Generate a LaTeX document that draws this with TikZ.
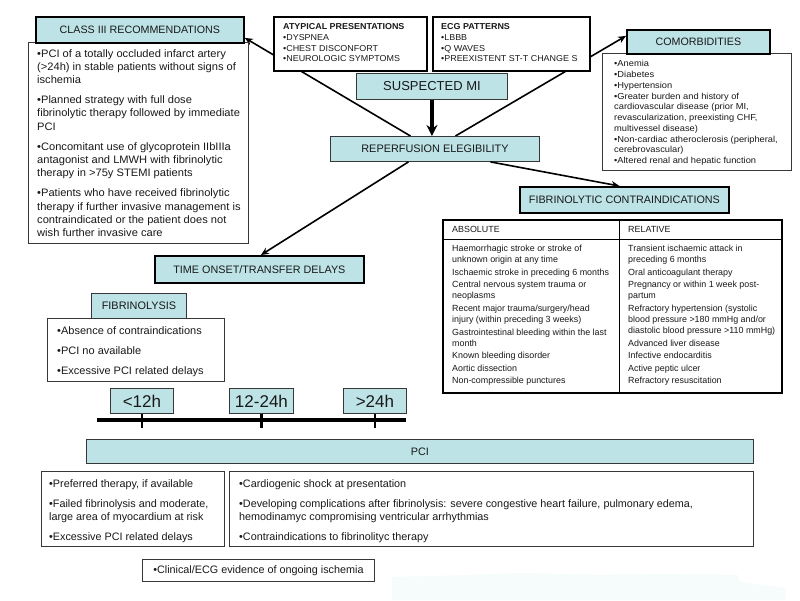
\documentclass[tikz,border=0pt]{standalone}
\usepackage{fontspec}
\setmainfont{Liberation Sans}
\usetikzlibrary{arrows.meta,backgrounds,calc}
\definecolor{boxcyan}{RGB}{189,227,230}
\definecolor{edgegray}{RGB}{55,55,55}
\definecolor{txtcol}{RGB}{25,25,25}
\definecolor{haze}{RGB}{246,251,252}
\newcommand\myfs[2]{\fontsize{#1}{#2}\selectfont}
\newcommand\mywide[1]{\addfontfeature{FakeStretch=#1}}
\tikzset{
  basebox/.style={anchor=north west, inner sep=0pt, text=txtcol},
  thickhdr/.style={basebox, draw=black, line width=1.8pt, fill=boxcyan},
  thinhdr/.style={basebox, draw=edgegray, line width=0.9pt, fill=boxcyan},
  thinbox/.style={basebox, draw=edgegray, line width=0.9pt, fill=white},
  thickbox/.style={basebox, draw=black, line width=1.8pt, fill=white},
  tabcell/.style={basebox, draw=black, line width=0.9pt, fill=white},
  txtblk/.style={anchor=north west, inner sep=0pt, align=left, text=txtcol},
  conn/.style={line width=1.6pt, -{Stealth[length=8pt,width=7pt]}},
  bigconn/.style={line width=3.6pt, -{Stealth[length=11pt,width=11pt]}},
  tickmark/.style={line width=2.6pt},
}
\begin{document}
\begin{tikzpicture}[x=1pt,y=-1pt]
\useasboundingbox (0,0) rectangle (800,600);
\fill[haze] (392,577) -- (470,575) -- (520,573) -- (600,575) -- (660,574) -- (738,575) -- (740,582) -- (785,588) -- (785,600) -- (392,600) -- cycle;

% class III
\node[thinbox, minimum width=220pt, minimum height=201pt] (c3b) at (28,42) {};
\node[txtblk, font=\myfs{10.8}{13.3}\mywide{1.03}] (c3t) at ([shift={(9,7)}]c3b.north west) {%
•PCI of a totally occluded infarct artery\\(>24h) in stable patients without signs of\\ischemia\\[6.7pt]%
•Planned strategy with full dose\\fibrinolytic therapy followed by immediate\\PCI\\[6.7pt]%
•Concomitant use of glycoprotein IIbIIIa\\antagonist and LMWH with fibrinolytic\\therapy in >75y STEMI patients\\[6.7pt]%
•Patients who have received fibrinolytic\\therapy if further invasive management is\\contraindicated or the patient does not\\wish further invasive care};
\node[thickhdr, minimum width=208pt, minimum height=26pt, font=\myfs{10.7}{12}] (c3h) at (35,16) {CLASS III RECOMMENDATIONS};

% atypical / ECG
\node[thickbox, minimum width=153pt, minimum height=54pt] (aty) at (273,16) {};
\node[txtblk, font=\myfs{8.6}{10.8}\mywide{1.04}] (atyt) at ([shift={(10,7.3)}]aty.north west) {\textbf{ATYPICAL PRESENTATIONS}\\•DYSPNEA\\•CHEST DISCONFORT\\•NEUROLOGIC SYMPTOMS};
\node[thickbox, minimum width=157pt, minimum height=54pt] (ecg) at (432,16) {};
\node[txtblk, font=\myfs{8.6}{10.8}\mywide{1.04}] (ecgt) at ([shift={(9,7.3)}]ecg.north west) {\textbf{ECG PATTERNS}\\•LBBB\\•Q WAVES\\•PREEXISTENT ST-T CHANGE S};

% central
\node[thinhdr, minimum width=151pt, minimum height=26pt, font=\myfs{13}{15}] (smi) at (356,73) {SUSPECTED MI};
\node[thinhdr, minimum width=209pt, minimum height=25pt, font=\myfs{10.9}{12}] (rep) at (330,136) {REPERFUSION ELEGIBILITY};

% comorbidities
\node[thinbox, minimum width=189pt, minimum height=117pt] (comb) at (602,53) {};
\node[txtblk, font=\myfs{8.7}{10.75}\mywide{1.07}] (comt) at ([shift={(12,7.3)}]comb.north west) {%
•Anemia\\•Diabetes\\•Hypertension\\•Greater burden and history of\\cardiovascular disease (prior MI,\\revascularization, preexisting CHF,\\multivessel disease)\\•Non-cardiac atheroclerosis (peripheral,\\cerebrovascular)\\•Altered renal and hepatic function};
\node[thickhdr, minimum width=143pt, minimum height=24pt, font=\myfs{10.7}{12}] (comh) at (626,29) {COMORBIDITIES};

% fibrinolytic contraindications
\node[thickhdr, minimum width=209pt, minimum height=26pt, font=\myfs{10.8}{12}] (fch) at (519,186) {FIBRINOLYTIC CONTRAINDICATIONS};
\node[tabcell, minimum width=177pt, minimum height=20pt] (absh) at (442,219) {};
\node[tabcell, minimum width=162pt, minimum height=20pt] (relh) at (619,219) {};
\node[tabcell, minimum width=177pt, minimum height=153pt] (absb) at (442,239) {};
\node[tabcell, minimum width=162pt, minimum height=153pt] (relb) at (619,239) {};
\node[basebox, draw=black, line width=1.8pt, minimum width=339pt, minimum height=173pt] (tbl) at (442,219) {};
\node[anchor=west, inner sep=0pt, text=txtcol, font=\myfs{8.9}{10}] (absl) at ([xshift=10pt]absh.west) {ABSOLUTE};
\node[anchor=west, inner sep=0pt, text=txtcol, font=\myfs{8.9}{10}] (rell) at ([xshift=9pt]relh.west) {RELATIVE};
\node[txtblk, font=\myfs{8.9}{11}] (abst) at ([shift={(10,6)}]absb.north west) {%
Haemorrhagic stroke or stroke of\\unknown origin at any time\\[1.6pt]%
Ischaemic stroke in preceding 6 months\\[1.6pt]%
Central nervous system trauma or\\neoplasms\\[1.6pt]%
Recent major trauma/surgery/head\\injury (within preceding 3 weeks)\\[1.6pt]%
Gastrointestinal bleeding within the last\\month\\[1.6pt]%
Known bleeding disorder\\[1.6pt]%
Aortic dissection\\[1.6pt]%
Non-compressible punctures};
\node[txtblk, font=\myfs{8.9}{11}] (relt) at ([shift={(9,6)}]relb.north west) {%
Transient ischaemic attack in\\preceding 6 months\\[1.6pt]%
Oral anticoagulant therapy\\[1.6pt]%
Pregnancy or within 1 week post-\\partum\\[1.6pt]%
Refractory hypertension (systolic\\blood pressure >180 mmHg and/or\\diastolic blood pressure >110 mmHg)\\[1.6pt]%
Advanced liver disease\\[1.6pt]%
Infective endocarditis\\[1.6pt]%
Active peptic ulcer\\[1.6pt]%
Refractory resuscitation};

% time onset
\node[thickhdr, minimum width=209pt, minimum height=27pt, font=\myfs{10.8}{12}] (tod) at (154,255) {TIME ONSET/TRANSFER DELAYS};

% fibrinolysis
\node[thinbox, minimum width=177pt, minimum height=63pt] (fibb) at (47,318) {};
\node[txtblk, font=\myfs{10.8}{13.3}\mywide{1.02}] (fibt) at ([shift={(10,8.7)}]fibb.north west) {•Absence of contraindications\\[6.7pt]•PCI no available\\[6.7pt]•Excessive PCI related delays};
\node[thinhdr, minimum width=95pt, minimum height=25pt, font=\myfs{10.9}{12}] (fibh) at (91,293) {FIBRINOLYSIS};

% timeline
\coordinate (tlA) at (97,420);
\coordinate (tlB) at (406,420);
\draw[line width=3.6pt] (tlA) -- (tlB);
\node[thinhdr, minimum width=63pt, minimum height=25pt, font=\myfs{17}{19}] (h12) at (110,388) {<12h};
\node[thinhdr, minimum width=64pt, minimum height=25pt, font=\myfs{17}{19}] (h1224) at (229,388) {12-24h};
\node[thinhdr, minimum width=63pt, minimum height=25pt, font=\myfs{17}{19}] (h24) at (343,388) {>24h};
\draw[tickmark] (h12.south) -- ++(0,14);
\draw[tickmark] (h1224.south) -- ++(0,14);
\draw[tickmark] (h24.south) -- ++(0,14);

% PCI
\node[thinhdr, minimum width=667pt, minimum height=24pt, font=\myfs{10.8}{12}] (pci) at (86,439) {PCI};
\node[thinbox, minimum width=183pt, minimum height=75pt] (pcil) at (41,471) {};
\node[txtblk, font=\myfs{10.8}{13.3}] (pcilt) at ([shift={(8,8)}]pcil.north west) {•Preferred therapy, if available\\[6.7pt]•Failed fibrinolysis and moderate,\\large area of myocardium at risk\\[6.7pt]•Excessive PCI related delays};
\node[thinbox, minimum width=524pt, minimum height=75pt] (pcir) at (229,471) {};
\node[txtblk, font=\myfs{10.8}{13.3}] (pcirt) at ([shift={(10,8)}]pcir.north west) {•Cardiogenic shock at presentation\\[6.7pt]•Developing complications after fibrinolysis: severe congestive heart failure, pulmonary edema,\\hemodinamyc compromising ventricular arrhythmias\\[6.7pt]•Contraindications to fibrinolityc therapy};
\node[thinbox, minimum width=232pt, minimum height=22pt, font=\myfs{10.8}{12}] (clin) at (142,559) {•Clinical/ECG evidence of ongoing ischemia};

% connectors
\begin{scope}[on background layer]
\draw[conn] ([xshift=-24.5pt]rep.north) -- ([yshift=-8pt]c3h.east);
\draw[conn] ([xshift=20.5pt]rep.north) -- ([yshift=6pt]comh.west);
\end{scope}
\draw[bigconn] (smi.south) -- (smi.south |- rep.north);
\draw[conn] ([xshift=-26.5pt]rep.south) -- ([xshift=1.5pt]tod.north);
\draw[conn] ([xshift=55.5pt]rep.south) -- ([xshift=-5pt]fch.north);
\end{tikzpicture}
\end{document}
